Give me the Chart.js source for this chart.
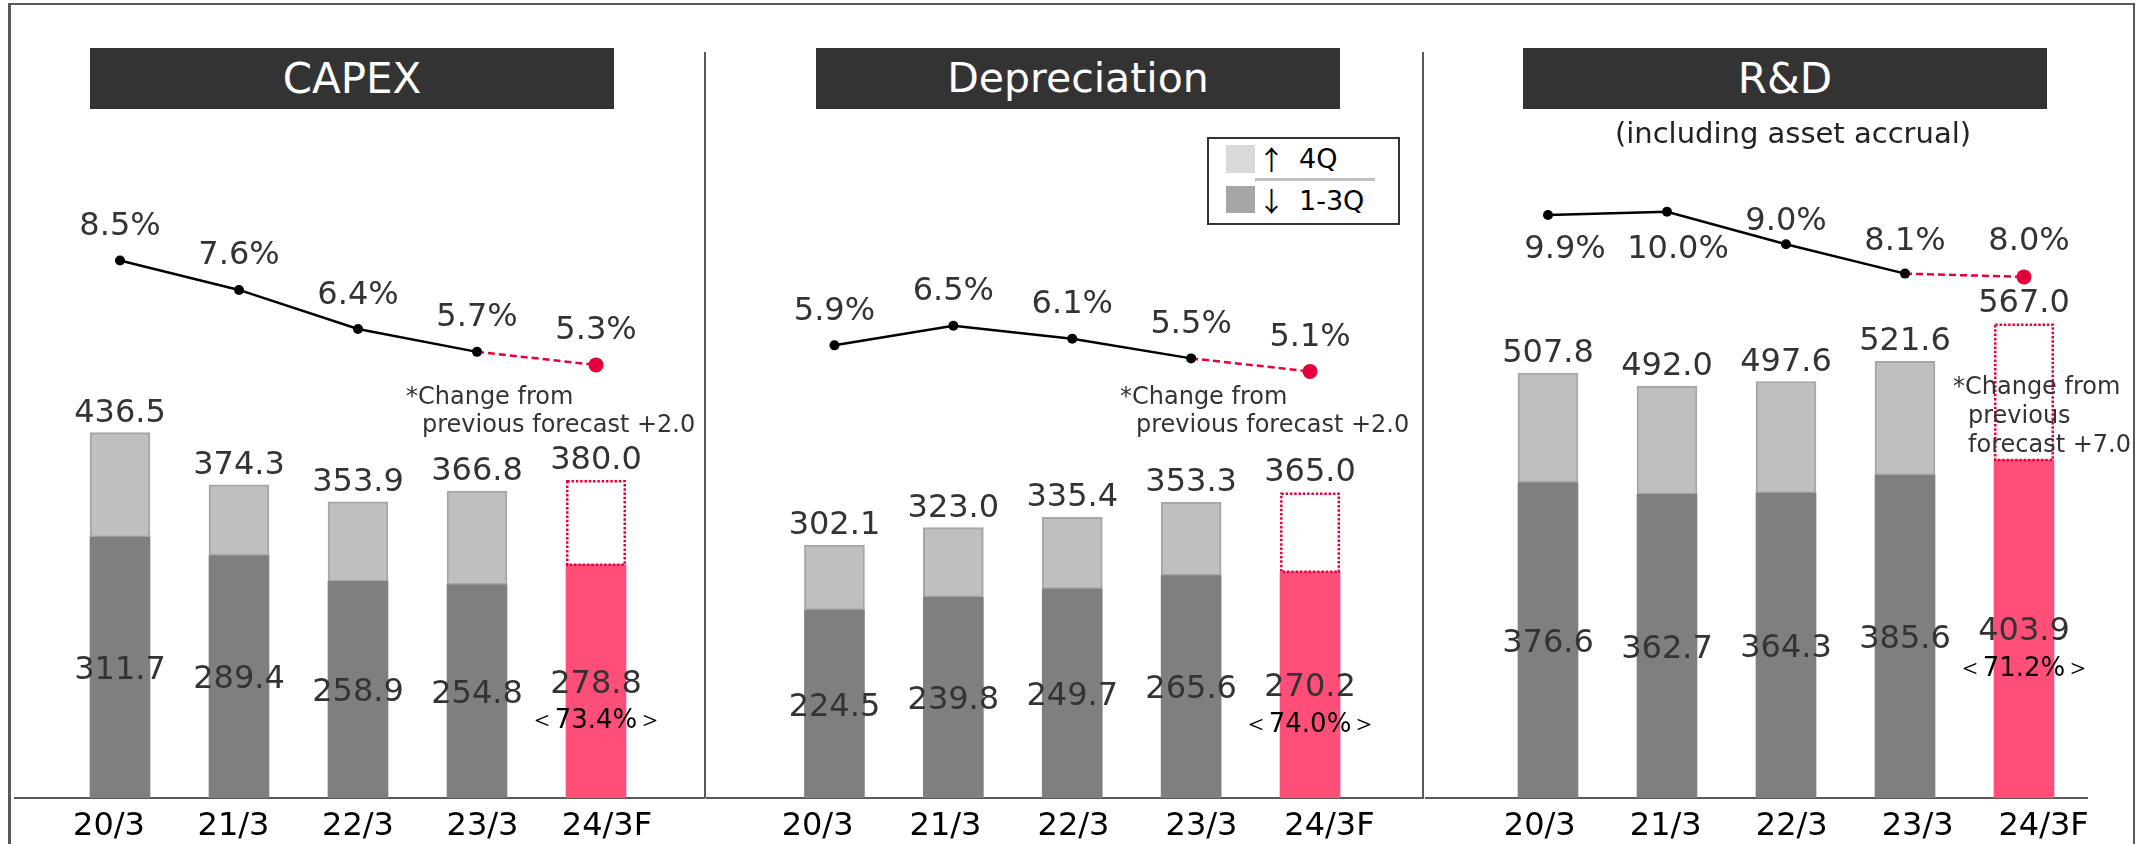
<!DOCTYPE html>
<html><head><meta charset="utf-8">
<script src="https://cdn.jsdelivr.net/npm/chart.js@4.4.1/dist/chart.umd.min.js"></script>
<style>
html,body{margin:0;padding:0;background:#fff;}
body{width:2136px;height:844px;position:relative;overflow:hidden;font-family:'DejaVu Sans',Verdana,sans-serif;}
.frame{position:absolute;left:8px;top:3px;width:2122px;height:900px;border-top:2px solid #595959;border-left:3px solid #595959;border-right:2px solid #595959;}
.divider{position:absolute;top:52px;width:2px;height:746px;background:#595959;}
.title{position:absolute;top:48px;height:61px;width:524px;background:#333;color:#fff;font-size:42px;line-height:61px;text-align:center;}
canvas{position:absolute;top:0;}
.note{position:absolute;font-size:24px;line-height:28px;color:#333;white-space:nowrap;}
.note span{padding-left:16px;}
.legend{position:absolute;left:1207px;top:137px;width:189px;height:84px;border:2px solid #333;background:#fff;}
.legend div{position:absolute;}
.ltxt{font-size:27px;line-height:30px;color:#000;}
.arrow{font-family:'Noto Sans CJK JP',sans-serif;font-size:27px;line-height:30px;color:#000;}
</style></head>
<body>
<div class="frame"></div>

<canvas id="c1" width="693" height="844" style="left:12px"></canvas>
<canvas id="c2" width="718" height="844" style="left:706px"></canvas>
<canvas id="c3" width="680" height="844" style="left:1425px"></canvas>

<div class="divider" style="left:704px"></div>
<div class="divider" style="left:1422px"></div>

<div class="title" style="left:90px">CAPEX</div>
<div class="title" style="left:816px;font-size:41px">Depreciation</div>
<div class="title" style="left:1523px">R&amp;D</div>
<div style="position:absolute;left:1543px;width:500px;top:115px;line-height:36px;font-size:29px;color:#222;text-align:center">(including asset accrual)</div>

<div class="note" style="left:406px;top:382px">*Change from<br><span>previous forecast +2.0</span></div>
<div class="note" style="left:1120px;top:382px">*Change from<br><span>previous forecast +2.0</span></div>
<div class="note" style="left:1953px;top:372px;line-height:29px">*Change from<br><span style="padding-left:15px">previous</span><br><span style="padding-left:15px">forecast +7.0</span></div>

<div class="legend">
  <div style="left:17px;top:6px;width:29px;height:28px;background:#D9D9D9"></div>
  <div style="left:17px;top:47px;width:29px;height:27px;background:#A6A6A6"></div>
  <div style="left:46px;top:39px;width:120px;height:3px;background:#BFBFBF"></div>
  <div class="arrow" style="left:49px;top:5px">↑</div>
  <div class="ltxt" style="left:90px;top:5px">4Q</div>
  <div class="arrow" style="left:49px;top:47px">↓</div>
  <div class="ltxt" style="left:90px;top:47px">1-3Q</div>
</div>

<script>
// ---- data ----
const categories = ['20/3', '21/3', '22/3', '23/3', '24/3F'];
const forecastIndex = 4;

const capexTotal = [436.5, 374.3, 353.9, 366.8, 380.0];
const capex13    = [311.7, 289.4, 258.9, 254.8, 278.8];
const capexRatio = [8.5, 7.6, 6.4, 5.7, 5.3];
const capexShare = 73.4;

const deprTotal = [302.1, 323.0, 335.4, 353.3, 365.0];
const depr13    = [224.5, 239.8, 249.7, 265.6, 270.2];
const deprRatio = [5.9, 6.5, 6.1, 5.5, 5.1];
const deprShare = 74.0;

const rdTotal = [507.8, 492.0, 497.6, 521.6, 567.0];
const rd13    = [376.6, 362.7, 364.3, 385.6, 403.9];
const rdRatio = [9.9, 10.0, 9.0, 8.1, 8.0];
const rdShare = 71.2;

// ---- styles ----
const DARK = '#7F7F7F', LIGHT = '#BFBFBF', LIGHT_BORDER = '#A6A6A6';
const PINK = '#FF4F78', RED = '#E4003B', DOT_RED = '#E8003D';
const FONT = "'DejaVu Sans', Verdana, sans-serif";
Chart.defaults.font.family = FONT;

const panelPlugin = {
  id: 'panel',
  beforeDatasetsDraw(chart) {
    const o = chart.options.plugins.panel;
    const ctx = chart.ctx;
    const y0 = Math.round(chart.scales.y.getPixelForValue(0));
    ctx.save();
    ctx.strokeStyle = '#595959';
    ctx.lineWidth = 2;
    ctx.beginPath();
    ctx.moveTo(o.baseFrom, y0);
    ctx.lineTo(o.baseTo, y0);
    ctx.stroke();
    ctx.restore();
  },
  afterDatasetsDraw(chart) {
    const o = chart.options.plugins.panel;
    const ctx = chart.ctx;
    const m13 = chart.getDatasetMeta(0), m4 = chart.getDatasetMeta(1), mL = chart.getDatasetMeta(2);
    // dotted outline of the forecast 4Q remainder
    const fe = m4.data[forecastIndex].getProps(['x', 'y', 'base', 'width'], true);
    ctx.save();
    ctx.strokeStyle = DOT_RED;
    ctx.lineWidth = 2.5;
    ctx.setLineDash([2.5, 1.8]);
    ctx.strokeRect(fe.x - fe.width / 2 + 1.25, fe.y + 1.25, fe.width - 2.5, fe.base - fe.y - 1.25);
    ctx.restore();

    ctx.save();
    ctx.textAlign = 'center';
    ctx.textBaseline = 'alphabetic';
    ctx.font = '32px ' + FONT;
    ctx.fillStyle = '#333';
    o.totals.forEach((v, i) => {
      const e = m4.data[i];
      ctx.fillText(v.toFixed(1), e.x, e.y - 11);
    });
    o.q13.forEach((v, i) => {
      const e = m13.data[i];
      const mid = (e.y + e.base) / 2;
      ctx.font = '32px ' + FONT;
      ctx.fillStyle = '#333';
      ctx.fillText(v.toFixed(1), e.x, mid + 11.5);
      if (i === forecastIndex) {
        ctx.font = '26px ' + FONT;
        ctx.fillStyle = '#000';
        ctx.fillText('＜' + o.share.toFixed(1) + '%＞', e.x, mid + 47);
      }
    });
    ctx.font = '32px ' + FONT;
    ctx.fillStyle = '#333';
    o.ratio.forEach((v, i) => {
      const p = mL.data[i];
      ctx.fillText(v.toFixed(1) + '%', p.x + o.ratioDx[i], p.y + o.ratioDy[i]);
    });
    ctx.restore();
  }
};

function makePanel(id, total, q13, ratio, share, pad, base, labelRange, ratioDx, ratioDy) {
  const q4 = total.map((t, i) => +(t - q13[i]).toFixed(1));
  const isF = i => i === forecastIndex;
  return new Chart(document.getElementById(id), {
    data: {
      labels: categories,
      datasets: [
        {
          type: 'bar', label: '1-3Q', data: q13, yAxisID: 'y', stack: 's',
          backgroundColor: categories.map((c, i) => isF(i) ? PINK : DARK),
          borderWidth: 0, barThickness: 60, order: 2
        },
        {
          type: 'bar', label: '4Q', data: q4, yAxisID: 'y', stack: 's',
          backgroundColor: categories.map((c, i) => isF(i) ? 'rgba(255,255,255,0)' : LIGHT),
          borderColor: categories.map((c, i) => isF(i) ? 'rgba(255,255,255,0)' : LIGHT_BORDER),
          borderWidth: 2, borderSkipped: false, barThickness: 60, order: 2
        },
        {
          type: 'line', label: 'ratio', data: ratio, yAxisID: 'y2',
          borderColor: '#000', borderWidth: 2.5, fill: false, tension: 0,
          pointRadius: categories.map((c, i) => isF(i) ? 7.5 : 5),
          pointBackgroundColor: categories.map((c, i) => isF(i) ? RED : '#000'),
          pointBorderWidth: 0,
          segment: {
            borderColor: ctx => ctx.p1DataIndex === forecastIndex ? RED : '#000',
            borderDash: ctx => ctx.p1DataIndex === forecastIndex ? [7, 4] : []
          },
          order: 1, clip: false
        }
      ]
    },
    options: {
      responsive: false,
      animation: false,
      devicePixelRatio: 1,
      layout: { padding: { left: pad[0], right: pad[1], top: 150, bottom: 0 } },
      scales: {
        x: { display: false, stacked: true, offset: true },
        xLabels: {
          type: 'linear', position: 'bottom', axis: 'x',
          min: labelRange[0], max: labelRange[1],
          grid: { display: false, drawTicks: false }, border: { display: false },
          ticks: {
            color: '#000', font: { size: 32, lineHeight: 1 }, padding: 13,
            maxRotation: 0, autoSkip: false,
            callback: v => (categories[v] !== undefined) ? categories[v] : ''
          },
          afterBuildTicks: s => { s.ticks = categories.map((c, i) => ({ value: i })); },
          afterFit: s => { s.height = 46; }
        },
        y: { display: false, stacked: true, min: 0, max: 774.2 },
        y2: { display: false, stacked: false, min: -7.985, max: 11.892 }
      },
      plugins: {
        legend: { display: false },
        tooltip: { enabled: false },
        panel: { totals: total, q13: q13, ratio: ratio, share: share, baseFrom: base[0], baseTo: base[1], ratioDx: ratioDx, ratioDy: ratioDy }
      }
    },
    plugins: [panelPlugin]
  });
}

makePanel('c1', capexTotal, capex13, capexRatio, capexShare, [48.5, 49.5], [2, 693], [-0.3896, 4.3895], [0,0,0,0,0], [-25.5,-25.5,-25.5,-25.5,-25.5]);
makePanel('c2', deprTotal, depr13, deprRatio, deprShare, [69, 54.5], [0, 718], [-0.3328, 4.3132], [0,0,0,0,0], [-25.5,-25.5,-25.5,-25.5,-25.5]);
makePanel('c3', rdTotal, rd13, rdRatio, rdShare, [63.5, 21.5], [0, 663], [-0.4071, 4.3166], [17,11,0,0,5], [43.5,46.5,-14.5,-23.5,-26.5]);
</script>
</body></html>
